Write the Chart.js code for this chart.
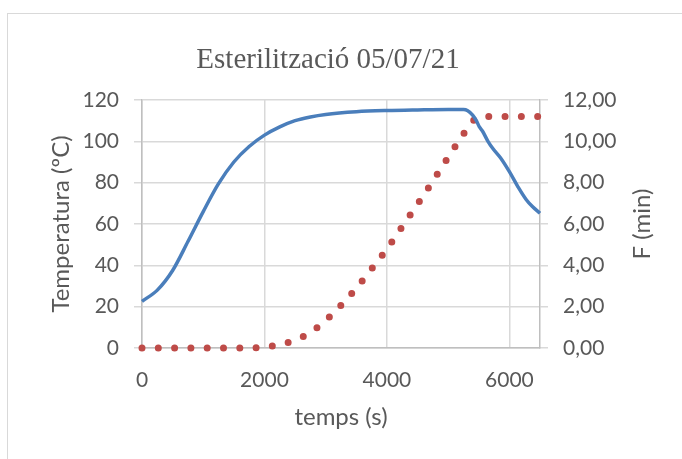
<!DOCTYPE html>
<html>
<head>
<meta charset="utf-8">
<title>Esterilització 05/07/21</title>
<script src="https://cdn.jsdelivr.net/npm/chart.js@4"></script>
<style>
  html, body { margin: 0; padding: 0; background: #fff; overflow: hidden; }
  #wrap { position: relative; width: 682px; height: 459px; }
  #frame {
    position: absolute; left: 7px; top: 13px; width: 700px; height: 470px;
    border-left: 1.5px solid #d9d9d9; border-top: 1.5px solid #d9d9d9;
  }
  canvas { position: absolute; left: 0; top: 0; }
</style>
</head>
<body>
<div id="wrap">
  <div id="frame"></div>
  <canvas id="chart" width="682" height="459"></canvas>
</div>
<script>
"use strict"

// temperature (ºC), left axis
const tempTime = [0, 250, 500, 750, 1000, 1250, 1500, 1750, 2000, 2250, 2500, 2750, 3000, 3500, 4000, 4500, 5000, 5250, 5320, 5400, 5460, 5510, 5560, 5650, 5730, 5860, 6000, 6140, 6270, 6380, 6500];
const tempValues = [22.6, 28, 37.5, 51.5, 66, 79.5, 90, 97.5, 103, 107, 110, 111.8, 113, 114.3, 114.9, 115.2, 115.4, 115.4, 114.8, 112.7, 110, 107, 105, 100, 96.5, 91.8, 85.3, 78, 72, 68.3, 65.2];

// F (min), right axis
const fTime = [0, 500, 1000, 1500, 1900, 2100, 2300, 2500, 2700, 2900, 3100, 3300, 3500, 3700, 3900, 4100, 4300, 4500, 4700, 4900, 5100, 5300, 5400, 5480, 5600, 6000, 6500];
const fValues = [0, 0, 0, 0, 0.02, 0.08, 0.2, 0.38, 0.66, 1.08, 1.61, 2.23, 2.9, 3.64, 4.4, 5.22, 6.1, 6.96, 7.85, 8.77, 9.68, 10.57, 10.96, 11.18, 11.2, 11.2, 11.2];

const xTicks = [0, 2000, 4000, 6000];
const tempTicks = [0, 20, 40, 60, 80, 100, 120];
const fTicks = [0, 2, 4, 6, 8, 10, 12];

const chartTitle = "Esterilització 05/07/21";
const xTitle = "temps (s)";
const tempTitle = "Temperatura (ºC)";
const fTitle = "F (min)";

const textColor = "#595959";
const gridColor = "#d9d9d9";
const axisColor = "#bfbfbf";
const sans = "Lato";

const toPoints = (xs, ys) => xs.map((x, i) => ({ x: x, y: ys[i] }));
const setTicks = (list) => (axis) => {
  axis.ticks = list.map((v) => ({ value: v }));
};

// title and right axis title (drawn by hand, Chart.js rotates right titles the other way)
const textPlugin = {
  id: "texts",
  afterDraw(chart) {
    const ctx = chart.ctx;
    ctx.save();
    ctx.fillStyle = textColor;
    ctx.textAlign = "center";
    ctx.textBaseline = "alphabetic";
    ctx.font = "29px 'Liberation Serif'";
    ctx.fillText(chartTitle, 328, 68);

    ctx.translate(642, 224);
    ctx.rotate(-Math.PI / 2);
    ctx.textBaseline = "middle";
    ctx.font = "24px " + sans;
    ctx.fillText(fTitle, 0, 0);
    ctx.restore();
  },
};

new Chart(document.getElementById("chart"), {
  type: "line",
  data: {
    datasets: [
      {
        label: "Temperatura",
        data: toPoints(tempTime, tempValues),
        yAxisID: "y",
        borderColor: "#4a7ebb",
        borderWidth: 3.5,
        pointRadius: 0,
        cubicInterpolationMode: "monotone",
        clip: false,
      },
      {
        label: "F",
        data: toPoints(fTime, fValues),
        yAxisID: "y2",
        borderColor: "#be4b48",
        borderWidth: 7,
        borderDash: [0, 16.3],
        borderCapStyle: "round",
        pointRadius: 0,
        cubicInterpolationMode: "monotone",
        clip: false,
      },
    ],
  },
  options: {
    responsive: false,
    animation: false,
    layout: { padding: { top: 100, left: 0, right: 0, bottom: 0 } },
    plugins: {
      legend: { display: false },
      tooltip: { enabled: false },
    },
    scales: {
      x: {
        type: "linear",
        min: 0,
        max: 6500,
        afterBuildTicks: setTicks(xTicks),
        afterFit: (scale) => { scale.height = 111; },
        grid: { color: gridColor, lineWidth: 1.5, drawTicks: false },
        border: { color: axisColor, width: 1.5 },
        ticks: {
          color: textColor,
          font: { family: sans, size: 21 },
          padding: 20,
          maxRotation: 0,
          callback: (v) => String(v),
        },
        title: {
          display: true,
          text: xTitle,
          color: textColor,
          font: { family: sans, size: 24 },
          padding: { top: 0, bottom: 27 },
        },
      },
      y: {
        position: "left",
        min: 0,
        max: 120,
        afterBuildTicks: setTicks(tempTicks),
        afterFit: (scale) => { scale.width = 142; },
        grid: { color: gridColor, lineWidth: 1.5, tickLength: 8 },
        border: { color: axisColor, width: 1.5 },
        ticks: {
          color: textColor,
          font: { family: sans, size: 21 },
          padding: 15,
        },
        title: {
          display: true,
          text: tempTitle,
          color: textColor,
          font: { family: sans, size: 24 },
          padding: { top: 47, bottom: 0 },
        },
      },
      y2: {
        position: "right",
        min: 0,
        max: 12,
        afterBuildTicks: setTicks(fTicks),
        afterFit: (scale) => { scale.width = 142; },
        grid: { color: gridColor, lineWidth: 1.5, tickLength: 8, drawOnChartArea: false },
        border: { color: axisColor, width: 1.5 },
        ticks: {
          color: textColor,
          font: { family: sans, size: 21 },
          padding: 15,
          callback: (v) => v.toFixed(2).replace(".", ","),
        },
      },
    },
  },
  plugins: [textPlugin],
});
</script>
</body>
</html>
